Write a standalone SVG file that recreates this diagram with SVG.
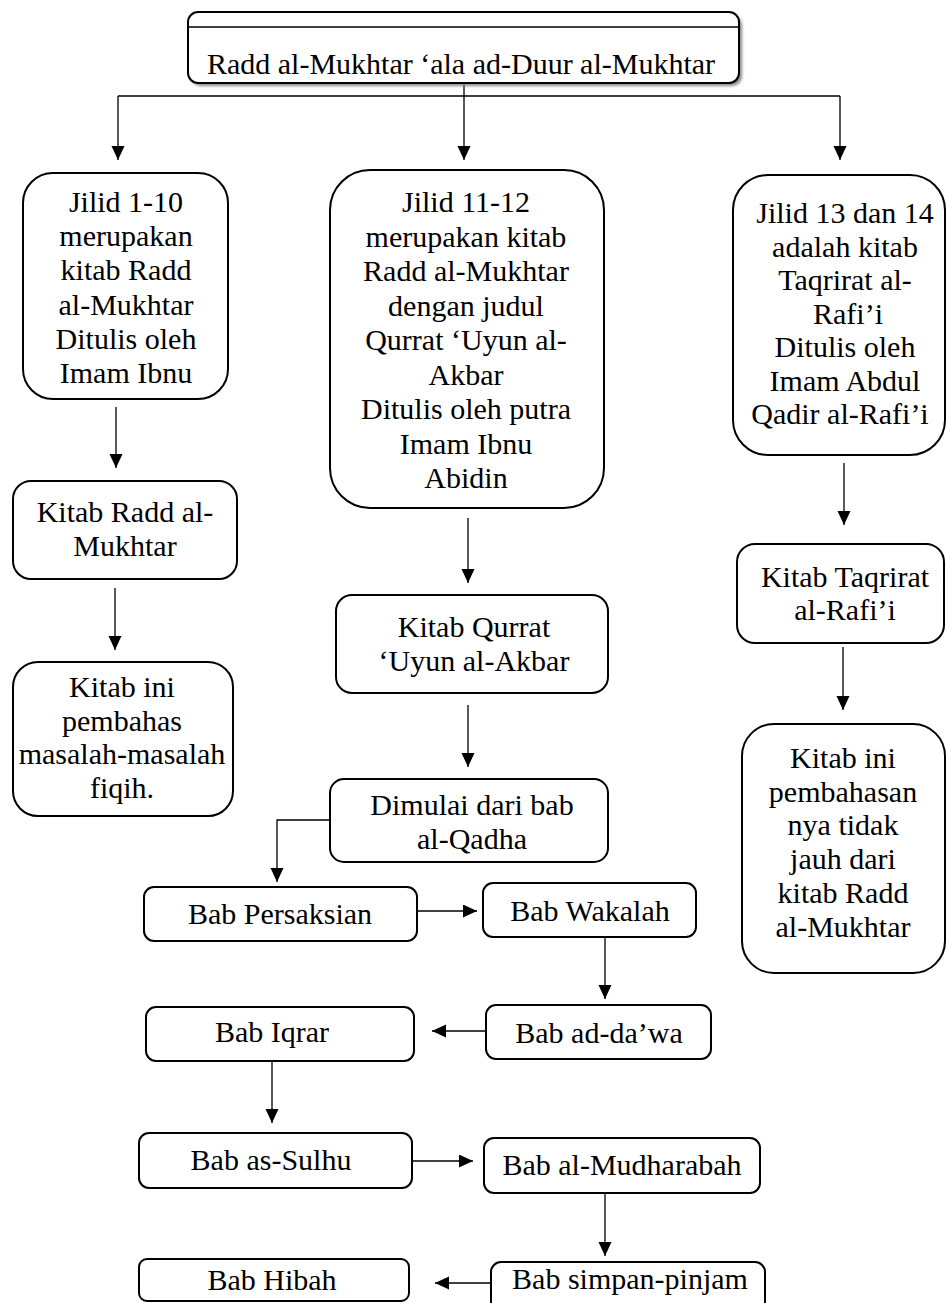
<svg xmlns="http://www.w3.org/2000/svg" width="946" height="1303" viewBox="0 0 946 1303">
<defs>
<marker id="ah" markerUnits="userSpaceOnUse" markerWidth="14" markerHeight="14" refX="14" refY="6.5" orient="auto">
<path d="M0,0 L14,6.5 L0,13 z" fill="#000"/>
</marker>
<filter id="sh" x="-5%" y="-20%" width="110%" height="150%">
<feGaussianBlur stdDeviation="1.5"/>
</filter>
</defs>
<style>
.box{fill:#fff;stroke:#000;stroke-width:2}
.t{font-family:"Liberation Serif","Times New Roman",serif;font-size:30px;fill:#000;text-anchor:middle}
.c{fill:none;stroke:#000;stroke-width:1.3}
.a{marker-end:url(#ah)}
</style>
<rect width="946" height="1303" fill="#fff"/>

<g id="connectors">
<line class="c" x1="118" y1="96" x2="840" y2="96"/>
<line class="c a" x1="118" y1="96" x2="118" y2="160"/>
<line class="c a" x1="464" y1="83" x2="464" y2="160"/>
<line class="c a" x1="840" y1="96" x2="840" y2="160"/>
<line class="c a" x1="116" y1="407" x2="116" y2="468"/>
<line class="c a" x1="115" y1="588" x2="115" y2="650"/>
<line class="c a" x1="468" y1="518" x2="468" y2="583"/>
<line class="c a" x1="468" y1="705" x2="468" y2="767"/>
<line class="c a" x1="844" y1="463" x2="844" y2="525"/>
<line class="c a" x1="843" y1="647" x2="843" y2="710"/>
<path class="c a" d="M330,820 H277 V882"/>
<line class="c a" x1="417" y1="911" x2="477" y2="911"/>
<line class="c a" x1="605" y1="937" x2="605" y2="999"/>
<line class="c a" x1="486" y1="1031" x2="432" y2="1031"/>
<line class="c a" x1="272" y1="1061" x2="272" y2="1123"/>
<line class="c a" x1="412" y1="1161" x2="473" y2="1161"/>
<line class="c a" x1="605" y1="1193" x2="605" y2="1256"/>
<line class="c a" x1="491" y1="1283" x2="435" y2="1283"/>
</g>

<g id="root">
<rect x="191" y="15" width="551" height="71" rx="10" fill="#888" filter="url(#sh)"/>
<rect class="box" x="188" y="12" width="551" height="71" rx="10"/>
<line x1="188" y1="27" x2="739" y2="27" stroke="#000" stroke-width="1.5"/>
<text class="t" x="461" y="74">Radd al-Mukhtar ‘ala ad-Duur al-Mukhtar</text>
</g>

<g id="jilid1">
<rect class="box" x="23" y="173" width="205" height="226" rx="30"/>
<text class="t" x="126" y="212">Jilid 1-10</text>
<text class="t" x="126" y="246">merupakan</text>
<text class="t" x="126" y="280">kitab Radd</text>
<text class="t" x="126" y="315">al-Mukhtar</text>
<text class="t" x="126" y="349">Ditulis oleh</text>
<text class="t" x="126" y="383">Imam Ibnu</text>
</g>

<g id="kitabradd">
<rect class="box" x="13" y="481" width="224" height="98" rx="18"/>
<text class="t" x="125" y="522">Kitab Radd al-</text>
<text class="t" x="125" y="556">Mukhtar</text>
</g>

<g id="fiqih">
<rect class="box" x="13" y="662" width="220" height="154" rx="25"/>
<text class="t" x="122" y="697">Kitab ini</text>
<text class="t" x="122" y="731">pembahas</text>
<text class="t" x="122" y="764">masalah-masalah</text>
<text class="t" x="122" y="798">fiqih.</text>
</g>

<g id="jilid11">
<rect class="box" x="330" y="170" width="274" height="338" rx="40"/>
<text class="t" x="466" y="212">Jilid 11-12</text>
<text class="t" x="466" y="246.5">merupakan kitab</text>
<text class="t" x="466" y="281">Radd al-Mukhtar</text>
<text class="t" x="466" y="315.5">dengan judul</text>
<text class="t" x="466" y="350">Qurrat ‘Uyun al-</text>
<text class="t" x="466" y="384.5">Akbar</text>
<text class="t" x="466" y="419">Ditulis oleh putra</text>
<text class="t" x="466" y="453.5">Imam Ibnu</text>
<text class="t" x="466" y="488">Abidin</text>
</g>

<g id="qurrat">
<rect class="box" x="336" y="595" width="272" height="98" rx="16"/>
<text class="t" x="474" y="637">Kitab Qurrat</text>
<text class="t" x="474" y="671">‘Uyun al-Akbar</text>
</g>

<g id="qadha">
<rect class="box" x="330" y="779" width="278" height="83" rx="14"/>
<text class="t" x="472" y="815">Dimulai dari bab</text>
<text class="t" x="472" y="849">al-Qadha</text>
</g>

<g id="jilid13">
<rect class="box" x="733" y="175" width="212" height="280" rx="35"/>
<text class="t" x="845" y="223">Jilid 13 dan 14</text>
<text class="t" x="845" y="256.5">adalah kitab</text>
<text class="t" x="845" y="290">Taqrirat al-</text>
<text class="t" x="848" y="323.5">Rafi’i</text>
<text class="t" x="845" y="357">Ditulis oleh</text>
<text class="t" x="845" y="390.5">Imam Abdul</text>
<text class="t" x="840" y="424">Qadir al-Rafi’i</text>
</g>

<g id="taqrirat">
<rect class="box" x="737" y="544" width="207" height="99" rx="18"/>
<text class="t" x="845" y="587">Kitab Taqrirat</text>
<text class="t" x="845" y="620">al-Rafi’i</text>
</g>

<g id="pembahasan">
<rect class="box" x="742" y="724" width="203" height="249" rx="32"/>
<text class="t" x="843" y="768">Kitab ini</text>
<text class="t" x="843" y="802">pembahasan</text>
<text class="t" x="843" y="835">nya tidak</text>
<text class="t" x="843" y="869">jauh dari</text>
<text class="t" x="843" y="903">kitab Radd</text>
<text class="t" x="843" y="937">al-Mukhtar</text>
</g>

<g id="persaksian">
<rect class="box" x="144" y="887" width="273" height="54" rx="10"/>
<text class="t" x="280" y="924">Bab Persaksian</text>
</g>

<g id="wakalah">
<rect class="box" x="483" y="883" width="213" height="54" rx="10"/>
<text class="t" x="590" y="921">Bab Wakalah</text>
</g>

<g id="dawa">
<rect class="box" x="486" y="1005" width="225" height="54" rx="10"/>
<text class="t" x="599" y="1043">Bab ad-da’wa</text>
</g>

<g id="iqrar">
<rect class="box" x="146" y="1007" width="268" height="54" rx="10"/>
<text class="t" x="272" y="1042">Bab Iqrar</text>
</g>

<g id="sulhu">
<rect class="box" x="139" y="1133" width="273" height="55" rx="10"/>
<text class="t" x="271" y="1170">Bab as-Sulhu</text>
</g>

<g id="mudharabah">
<rect class="box" x="484" y="1138" width="276" height="55" rx="10"/>
<text class="t" x="622" y="1175">Bab al-Mudharabah</text>
</g>

<g id="simpan">
<rect class="box" x="491" y="1262" width="274" height="60" rx="10"/>
<text class="t" x="630" y="1289">Bab simpan-pinjam</text>
</g>

<g id="hibah">
<rect class="box" x="139" y="1259" width="270" height="42" rx="8"/>
<text class="t" x="272" y="1290">Bab Hibah</text>
</g>
</svg>
